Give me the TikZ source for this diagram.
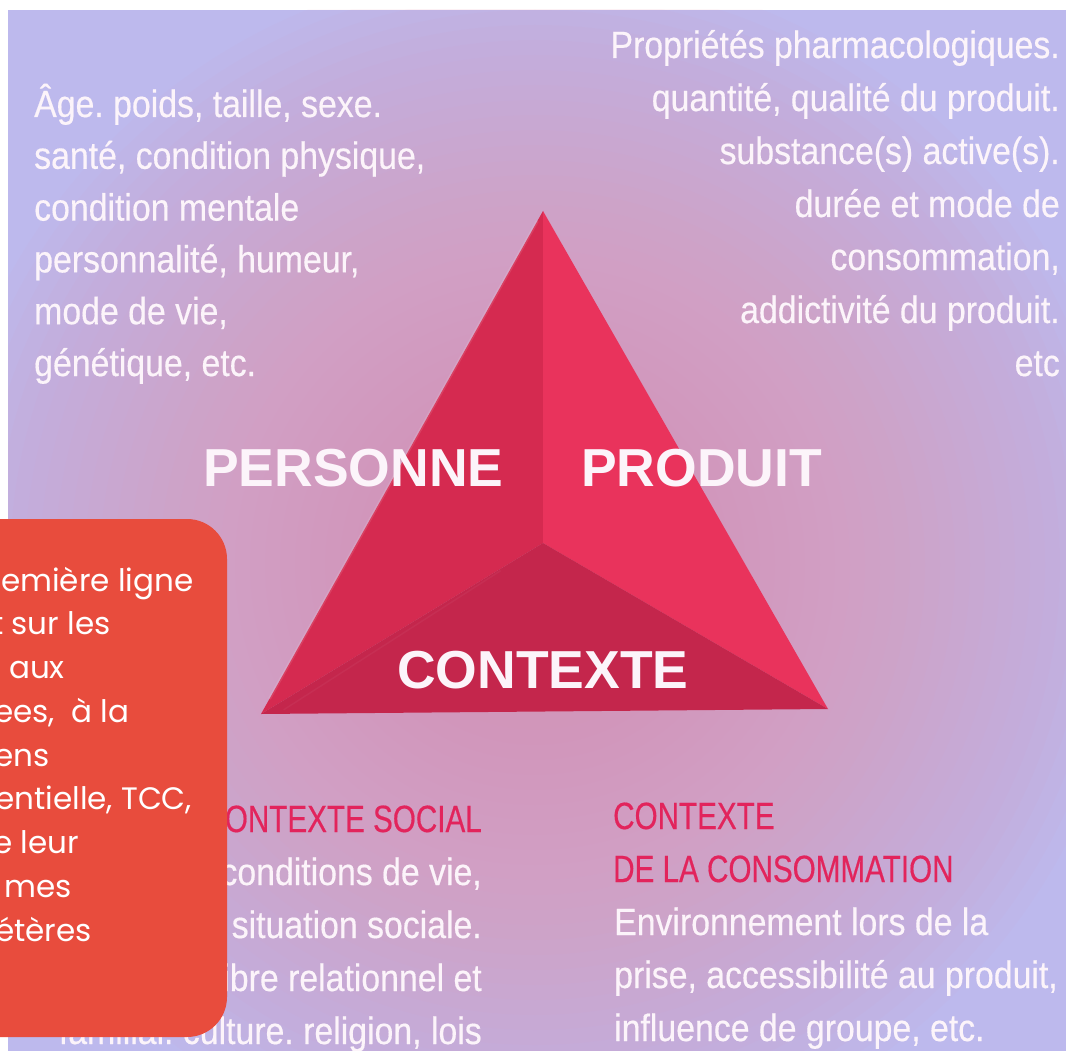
\documentclass[tikz,border=0pt]{standalone}
\usepackage{fontspec}
\usetikzlibrary{calc}
\newfontfamily\condf[FakeStretch=0.89,FakeBold=0.4]{Liberation Sans}
\newfontfamily\capf[FakeStretch=0.78,FakeBold=0.4]{Liberation Sans}
\newfontfamily\headf{Liberation Sans}
\newfontfamily\boxf{Poppins}
\frenchspacing
\definecolor{bgc}{RGB}{189,185,237}
\definecolor{glowc}{RGB}{232,150,178}
\definecolor{faceL}{RGB}{213,42,80}
\definecolor{faceR}{RGB}{233,51,92}
\definecolor{faceB}{RGB}{196,38,76}
\definecolor{txtc}{RGB}{252,244,250}
\definecolor{pinkc}{RGB}{226,36,92}
\definecolor{boxc}{RGB}{232,76,61}
\tikzset{
  bodytxt/.style={font=\condf\fontsize{38}{38}\selectfont, text=txtc, inner sep=0pt},
  pinktxt/.style={font=\capf\fontsize{38}{38}\selectfont, text=pinkc, inner sep=0pt},
  headtxt/.style={font=\headf\bfseries\fontsize{53.5}{53.5}\selectfont, text=txtc, inner sep=0pt},
  boxtxt/.style={font=\boxf\fontsize{31}{31}\selectfont, text=white, inner sep=0pt, anchor=base west},
  glowring/.style={fill=glowc, fill opacity=0.042},
}
\begin{document}
\begin{tikzpicture}[x=1pt,y=-1pt]
\useasboundingbox (0,0) rectangle (1066,1051);
\clip (0,0) rectangle (1066,1051);
% page and background
\fill[white] (0,0) rectangle (1066,1051);
\fill[bgc] (8,10) rectangle (1066,1051);
\begin{scope}
\clip (8,10) rectangle (1066,1051);
\foreach \k in {1,...,40}
  \fill[glowring] (535,565) circle[radius={15*\k}];
\end{scope}
% triangle
\coordinate (apex) at (543,211);
\coordinate (bl) at (261,714);
\coordinate (br) at (828,709);
\coordinate (ctr) at (543,543);
\fill[faceL] (apex) -- (bl) -- (ctr) -- cycle;
\fill[faceR] (apex) -- (ctr) -- (br) -- cycle;
\fill[faceB] (bl) -- (ctr) -- (br) -- cycle;
\draw[white, opacity=0.1, line width=3pt] ($(apex)!0.02!(bl)$) -- ($(bl)!0.03!(apex)$);
\draw[white, opacity=0.04, line width=1.5pt] ($(bl)!0.04!(br)+(0,-4)$) -- ($(ctr)!0.15!(bl)+(0,2)$);
% headings
\node[headtxt, anchor=base west] (personne) at (203,486) {PERSONNE};
\node[headtxt, anchor=base west] (produit) at (581,486) {PRODUIT};
\node[headtxt, anchor=base west] (contexte) at (397,688) {CONTEXTE};
% top left text
\foreach \t [count=\i] in {{Âge. poids, taille, sexe.},{santé, condition physique,},{condition mentale},{personnalité, humeur,},{mode de vie,},{génétique, etc.}}
  \node[bodytxt, anchor=base west] (tl\i) at (34,{117+51.8*(\i-1)}) {\t};
% top right text
\foreach \t [count=\i] in {{Propriétés pharmacologiques.},{quantité, qualité du produit.},{substance(s) active(s).},{durée et mode de},{consommation,},{addictivité du produit.},{etc}}
  \node[bodytxt, anchor=base east] (tr\i) at (1060,{58+53*(\i-1)}) {\t};
% bottom left text
\node[pinktxt, anchor=base east] (bl0) at (482,832) {CONTEXTE SOCIAL};
\foreach \t [count=\i] in {{conditions de vie,},{situation sociale.},{équilibre relationnel et},{familial. culture. religion, lois}}
  \node[bodytxt, anchor=base east] (bl\i) at (482,{832+53*\i}) {\t};
% bottom right text
\node[pinktxt, anchor=base west] (brA) at (613,829) {CONTEXTE};
\node[pinktxt, anchor=base west] (brB) at (613,882) {DE LA CONSOMMATION};
\foreach \t [count=\i] in {{Environnement lors de la},{prise, accessibilité au produit,},{influence de groupe, etc.}}
  \node[bodytxt, anchor=base west] (br\i) at (614,{882+53*\i}) {\t};
% orange box
\fill[boxc, rounded corners=40pt] (-60,519) rectangle (227,1037);
\foreach \t/\xo [count=\i] in {{emière ligne}/1,{t sur les}/-8,{aux}/9,{ees,\ \ à la}/-6,{ens}/-6,{entielle, TCC,}/-5,{e leur}/-7,{mes}/4,{étères}/-5}
  \node[boxtxt] (b\i) at (\xo,{591+43.75*(\i-1)}) {\t};
\end{tikzpicture}
\end{document}
